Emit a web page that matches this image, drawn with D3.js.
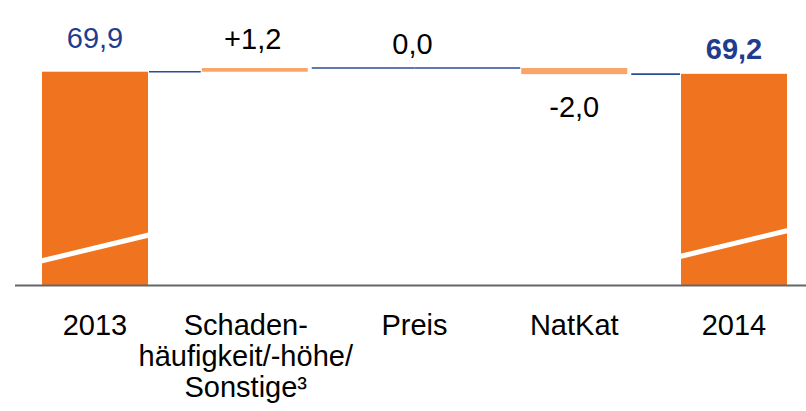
<!DOCTYPE html>
<html><head><meta charset="utf-8">
<script src="https://cdn.jsdelivr.net/npm/d3@7"></script>
<style>html,body{margin:0;padding:0;background:#fff;}svg{display:block;}</style>
</head><body>
<svg id="chart" width="806" height="411"></svg>
<script>
// ---- data ----
const categories = ["2013", "Schaden-|häufigkeit/-höhe/|Sonstige³", "Preis", "NatKat", "2014"];
const values = [69.9, 1.2, 0.0, -2.0, 69.2];
const kinds = ["total", "delta", "delta", "delta", "total"];
const valueLabels = ["69,9", "+1,2", "0,0", "-2,0", "69,2"];

// ---- layout ----
const svg = d3.select("#chart");
const baseY = 285;
const x = d3.scaleBand().domain(categories).range([42, 787]).paddingInner(0.3365).paddingOuter(0);
const y = d3.scaleLinear().domain([0, 93.4]).range([baseY, 0]);

const orange = "#F0731F", light = "#FAA468", blue = "#1F3C8E", lineBlue = "#2B4B9B";
const font = "'Liberation Sans', Arial, sans-serif";

// compute running totals
let run = 0;
const bars = categories.map((c, i) => {
  let y0, y1;
  if (kinds[i] === "total") { y0 = 0; y1 = values[i]; run = values[i]; }
  else { y0 = run; y1 = run + values[i]; run = y1; }
  return { c, i, y0, y1, end: run, v: values[i], kind: kinds[i] };
});

// connectors
for (let i = 0; i < bars.length - 1; i++) {
  const a = bars[i], b = bars[i + 1];
  const gA = a.kind === "delta" && a.v === 0 ? 0 : (i === 0 ? 1 : 4);
  const gB = b.kind === "delta" && b.v === 0 ? 0 : (i === 0 ? 1 : 1);
  const xa = (a.kind === "delta" && a.v === 0) ? x(a.c) + x.bandwidth() / 2 : x(a.c) + x.bandwidth() + gA;
  const xb = (b.kind === "delta" && b.v === 0) ? x(b.c) + x.bandwidth() / 2 : x(b.c) - gB;
  svg.append("line").attr("x1", xa).attr("x2", xb)
    .attr("y1", y(a.end)).attr("y2", y(a.end))
    .attr("stroke", lineBlue).attr("stroke-width", 1.6);
}

// bars
svg.selectAll("rect.bar").data(bars.filter(d => d.v !== 0)).join("rect")
  .attr("class", "bar")
  .attr("x", d => x(d.c))
  .attr("width", x.bandwidth())
  .attr("y", d => y(Math.max(d.y0, d.y1)))
  .attr("height", d => Math.abs(y(d.y0) - y(d.y1)))
  .attr("fill", d => d.kind === "total" ? orange : light);

// axis break marks on total bars
const breakOff = { 0: [24, 50], 4: [28.5, 54.5] };
bars.filter(d => d.kind === "total").forEach(d => {
  const [l, r] = breakOff[d.i];
  svg.append("line")
    .attr("x1", x(d.c) - 1).attr("x2", x(d.c) + x.bandwidth() + 1)
    .attr("y1", baseY - l).attr("y2", baseY - r)
    .attr("stroke", "#fff").attr("stroke-width", 5);
});

// baseline axis
svg.append("line").attr("x1", 15).attr("x2", 806).attr("y1", baseY + 0.5).attr("y2", baseY + 0.5)
  .attr("stroke", "#666").attr("stroke-width", 2);

// value labels
const aboveOff = [23.5, 19, 14.5, 0, 15];
bars.forEach(d => {
  const top = y(Math.max(d.y0, d.y1)), bot = y(Math.min(d.y0, d.y1));
  const yy = d.v < 0 ? bot + 42.5 : top - aboveOff[d.i];
  svg.append("text")
    .attr("x", x(d.c) + x.bandwidth() / 2 - (d.i === 1 ? 2 : d.i === 2 ? 2 : 0))
    .attr("y", yy)
    .attr("text-anchor", "middle")
    .attr("font-family", font)
    .attr("font-size", 29)
    .attr("font-weight", d.i === 4 ? "bold" : "normal")
    .attr("fill", d.kind === "total" ? blue : "#000")
    .text(valueLabels[d.i]);
});

// category labels
bars.forEach(d => {
  const lines = d.c.split("|");
  const t = svg.append("text")
    .attr("text-anchor", "middle")
    .attr("font-family", font)
    .attr("font-size", 29)
    .attr("fill", "#000");
  const cx = x(d.c) + x.bandwidth() / 2 + (lines.length > 1 ? -9 : 0);
  lines.forEach((ln, k) => {
    t.append("tspan").attr("x", cx).attr("y", 335 + k * 31).text(ln);
  });
});
</script>
</body></html>
